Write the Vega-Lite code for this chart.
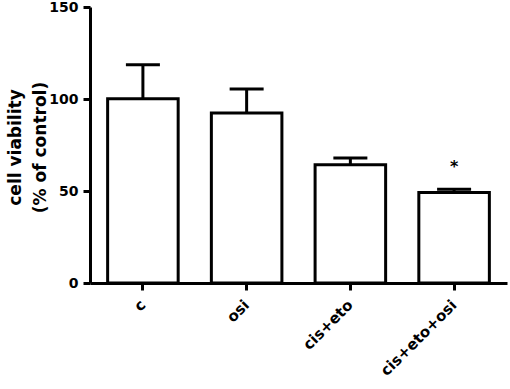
{
  "$schema": "https://vega.github.io/schema/vega-lite/v6.json",
  "width": 417,
  "height": 276,
  "autosize": {"type": "none"},
  "padding": {"left": 90, "top": 7, "right": 3, "bottom": 106},
  "background": "white",
  "config": {
    "view": {"stroke": null},
    "font": "DejaVu Sans",
    "axis": {"grid": false, "domainColor": "black", "tickColor": "black", "domainWidth": 3, "tickWidth": 3, "tickSize": 7, "labelColor": "black", "titleColor": "black", "labelFont": "DejaVu Sans", "titleFont": "DejaVu Sans", "labelFontWeight": "bold", "titleFontWeight": "bold"}
  },
  "data": {
    "values": [
      {"group": "c", "mean": 100.2, "upper": 118.6, "sig": ""},
      {"group": "osi", "mean": 92.4, "upper": 105.4, "sig": ""},
      {"group": "cis+eto", "mean": 64.3, "upper": 68.0, "sig": ""},
      {"group": "cis+eto+osi", "mean": 49.2, "upper": 51.0, "sig": "*"}
    ]
  },
  "encoding": {
    "x": {
      "field": "group", "type": "nominal", "sort": null,
      "scale": {"paddingInner": 0.32, "paddingOuter": 0.17},
      "axis": {"title": null, "labelAngle": -45, "labelFontSize": 15, "labelPadding": 12, "labelAlign": "right", "labelBaseline": "middle"}
    }
  },
  "layer": [
    {
      "mark": {"type": "rule", "color": "black", "strokeWidth": 3},
      "encoding": {
        "y": {"field": "mean", "type": "quantitative"},
        "y2": {"field": "upper"}
      }
    },
    {
      "mark": {"type": "tick", "orient": "horizontal", "color": "black", "size": 34, "thickness": 3, "opacity": 1},
      "encoding": {
        "y": {"field": "upper", "type": "quantitative"}
      }
    },
    {
      "mark": {"type": "bar", "fill": "white", "stroke": "black", "strokeWidth": 3},
      "encoding": {
        "y": {
          "field": "mean", "type": "quantitative",
          "scale": {"domain": [0, 150], "nice": false},
          "axis": {"values": [0, 50, 100, 150], "labelFontSize": 14, "labelPadding": 5, "title": ["cell viability", "(% of control)"], "titleFontSize": 17, "titleLineHeight": 25, "titleX": -66, "titleY": 140, "titleAngle": -90, "titleAlign": "center", "titleBaseline": "bottom"}
        }
      }
    },
    {
      "mark": {"type": "text", "fontSize": 16, "fontWeight": "bold", "color": "black", "baseline": "middle", "dy": 4},
      "encoding": {
        "y": {"datum": 65, "type": "quantitative"},
        "text": {"field": "sig"}
      }
    }
  ]
}
